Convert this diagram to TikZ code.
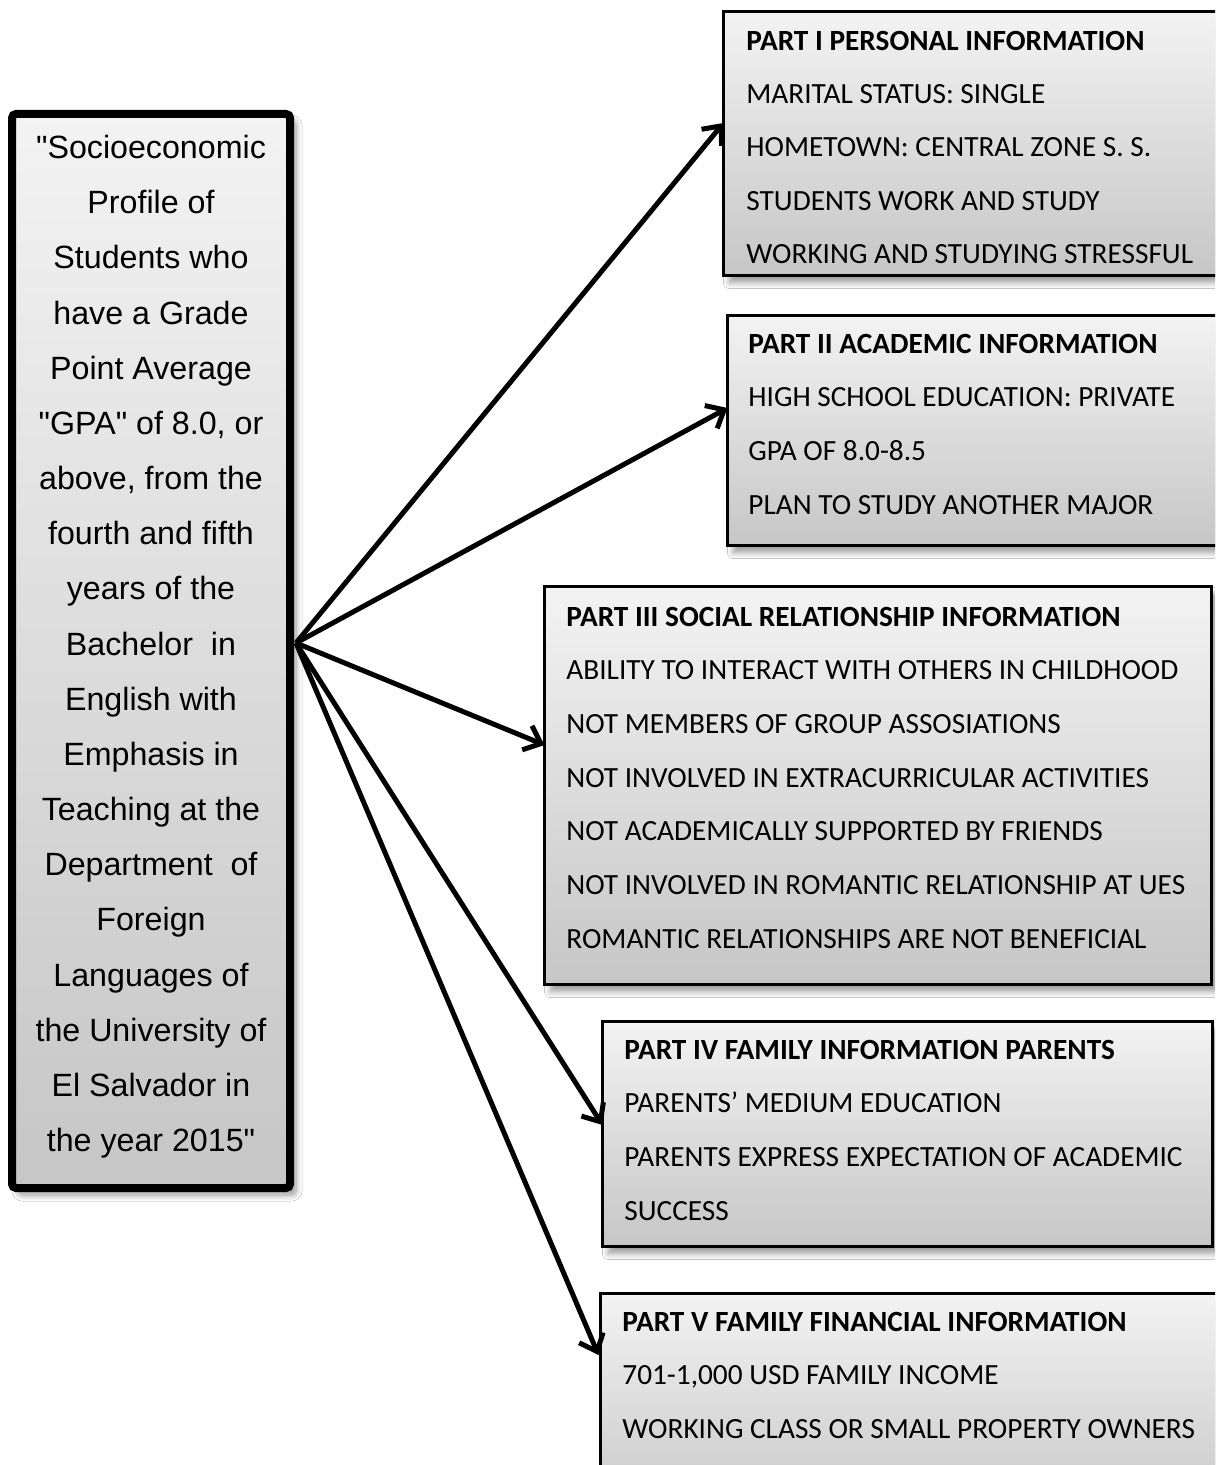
\documentclass[tikz,border=0pt]{standalone}
\usepackage{fontspec}
\setmainfont{Carlito}
\newfontfamily\arialf{Liberation Sans}
\usetikzlibrary{arrows.meta,shadows.blur}
\definecolor{topg}{RGB}{243,243,243}
\definecolor{botg}{RGB}{198,198,198}
\begin{document}
\begin{tikzpicture}[x=0.5pt,y=-0.5pt,
  panel/.style={draw=black, line width=1.5pt, top color=topg, bottom color=botg,
    inner sep=0pt, outer sep=0pt,
    blur shadow={shadow xshift=3pt,shadow yshift=-3.5pt,shadow blur steps=10,shadow blur radius=3pt,shadow opacity=40}},
  mainpanel/.style={panel, line width=4pt, rounded corners=2pt},
  ln/.style={anchor=base west, inner sep=0pt, font=\fontsize{14.65}{17}\selectfont},
  mln/.style={anchor=base, inner sep=0pt, font=\arialf\fontsize{16.1}{19}\selectfont},
  arr/.style={line width=2.5pt, -{Straight Barb[length=7.5pt,width=13pt]}}]
\clip (0,0) rectangle (1215,1465);
\fill[white] (0,0) rectangle (1215,1465);

% main box
\node[mainpanel, minimum width=139pt, minimum height=537pt] (lb) at (151,651) {};
\foreach \t [count=\i from 0] in {{"Socioeconomic},{Profile of},{Students who},{have a Grade},{Point Average},{"GPA" of 8.0, or},{above, from the},{fourth and fifth},{years of the},{Bachelor \ in},{English with},{Emphasis in},{Teaching at the},{Department \ of},{Foreign},{Languages of},{the University of},{El Salvador in},{the year 2015"}}
  \node[mln] (lt-\i) at (151,{158.5+\i*55.17}) {\t};

% right boxes
\node[panel, minimum width=258.25pt, minimum height=132pt] (b1) at (981.75,143.5) {};
\node[panel, minimum width=256.25pt, minimum height=115pt] (b2) at (983.75,430.5) {};
\node[panel, minimum width=333.5pt, minimum height=199pt] (b3) at (878,785.5) {};
\node[panel, minimum width=304.75pt, minimum height=112.5pt] (b4) at (907.25,1134) {};
\node[panel, minimum width=319.75pt, minimum height=113.25pt] (b5) at (920.25,1406.75) {};

\foreach \t [count=\i from 0] in {{\textbf{PART I PERSONAL INFORMATION}},{MARITAL STATUS: SINGLE},{HOMETOWN: CENTRAL ZONE S. S.},{STUDENTS WORK AND STUDY},{WORKING AND STUDYING STRESSFUL}}
  \node[ln] (t1-\i) at (746,{50.3+\i*53.25}) {\t};
\foreach \t [count=\i from 0] in {{\textbf{PART II ACADEMIC INFORMATION}},{HIGH SCHOOL EDUCATION: PRIVATE},{GPA OF 8.0-8.5},{PLAN TO STUDY ANOTHER MAJOR}}
  \node[ln] (t2-\i) at (748,{353.3+\i*53.67}) {\t};
\foreach \t [count=\i from 0] in {{\textbf{PART III SOCIAL RELATIONSHIP INFORMATION}},{ABILITY TO INTERACT WITH OTHERS IN CHILDHOOD},{NOT MEMBERS OF GROUP ASSOSIATIONS},{NOT INVOLVED IN EXTRACURRICULAR ACTIVITIES},{NOT ACADEMICALLY SUPPORTED BY FRIENDS},{NOT INVOLVED IN ROMANTIC RELATIONSHIP AT UES},{ROMANTIC RELATIONSHIPS ARE NOT BENEFICIAL}}
  \node[ln] (t3-\i) at (566,{626.3+\i*53.67}) {\t};
\foreach \t [count=\i from 0] in {{\textbf{PART IV FAMILY INFORMATION PARENTS}},{PARENTS’ MEDIUM EDUCATION},{PARENTS EXPRESS EXPECTATION OF ACADEMIC},{SUCCESS}}
  \node[ln] (t4-\i) at (624,{1059.3+\i*53.67}) {\t};
\foreach \t [count=\i from 0] in {{\textbf{PART V FAMILY FINANCIAL INFORMATION}},{701-1,000 USD FAMILY INCOME},{WORKING CLASS OR SMALL PROPERTY OWNERS}}
  \node[ln] (t5-\i) at (622,{1331.3+\i*53.5}) {\t};

% arrows
\coordinate (src) at (296,643);
\draw[arr] (src) -- (b1.west |- 0,123);
\draw[arr] (src) -- (b2.west |- 0,408);
\draw[arr] (src) -- (b3.west |- 0,745);
\draw[arr] (src) -- (b4.west |- 0,1125);
\draw[arr] (src) -- ([xshift=-1pt]b5.west |- 0,1355);
\end{tikzpicture}
\end{document}
